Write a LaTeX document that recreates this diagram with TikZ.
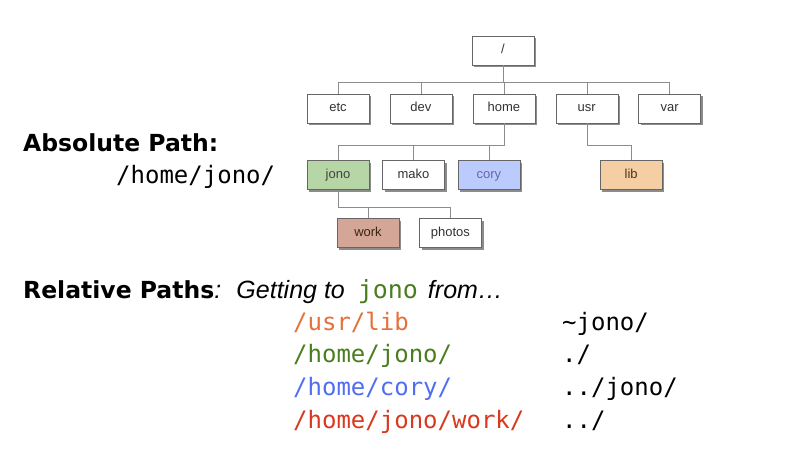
\documentclass[tikz,border=0pt]{standalone}
\usepackage{fontspec}
\newfontfamily\treefont{Liberation Sans}
\newfontfamily\headfont{DejaVu Sans}
\newfontfamily\pathfont{DejaVu Sans Mono}
\usepackage{tikz}
\usetikzlibrary{shadows}
\usetikzlibrary{positioning}
\definecolor{jono-fill}{HTML}{B7D6A6}
\definecolor{cory-fill}{HTML}{BBCBFD}
\definecolor{lib-fill}{HTML}{F5CEA3}
\definecolor{work-fill}{HTML}{D4A698}
\definecolor{usr-orange}{HTML}{E4703A}
\definecolor{jono-green}{HTML}{4A7D1E}
\definecolor{cory-blue}{HTML}{4F6EF0}
\definecolor{work-red}{HTML}{D9381E}

\begin{document}
\begin{tikzpicture}[x=1pt, y=-1pt]

    \tikzstyle{dir-s}     = [draw=black!60, fill=white, rectangle, minimum width=62pt, minimum height=29pt,
                             inner sep=0pt, text height=9.5pt, text depth=2.8pt, text=black!80,
                             font=\treefont\fontsize{13}{13}\selectfont,
                             drop shadow={shadow xshift=2.2pt, shadow yshift=-2.2pt, fill=black!45, opacity=1}];
    \tikzstyle{branch}    = [draw=black!45, thin];
    \tikzstyle{title}     = [anchor=base west, inner sep=0pt, font=\headfont\fontsize{23.5}{23.5}\selectfont\bfseries];
    \tikzstyle{unix-path} = [anchor=base west, inner sep=0pt, font=\pathfont\fontsize{24}{24}\selectfont];
    \newcommand{\slant}{\treefont\mdseries\itshape\fontsize{25}{25}\selectfont}

    \useasboundingbox (0,0) rectangle (793,474);

    %
    % Directory tree
    %
    \node[dir-s] (dir-root) at (503,50.5)           {/};

    \node[dir-s] (dir-etc)  at (338,108.5)          {etc};
    \node[dir-s] (dir-dev)  [right=20.5pt of dir-etc]  {dev};
    \node[dir-s] (dir-home) [right=20.5pt of dir-dev]  {home};
    \node[dir-s] (dir-usr)  [right=20.5pt of dir-home] {usr};
    \node[dir-s] (dir-var)  [right=20.5pt of dir-usr]  {var};

    \node[dir-s, fill=jono-fill, text=black!75] (dir-jono) at (338,175)  {jono};
    \node[dir-s] (dir-mako) [right=13pt of dir-jono] {mako};
    \node[dir-s, fill=cory-fill, text=black!55!blue!60] (dir-cory) [right=13pt of dir-mako] {cory};
    \node[dir-s, fill=lib-fill, text=black!60!brown] (dir-lib) [right=80pt of dir-cory] {lib};

    \node[dir-s, fill=work-fill, text=black!70!brown] (dir-work) at (368,233) {work};
    \node[dir-s] (dir-photos) [right=20pt of dir-work] {photos};

    % Branch levels
    \coordinate (lvl-1) at (0,82);
    \coordinate (lvl-2) at (0,145);
    \coordinate (lvl-3) at (0,207);

    \foreach \child in {etc,dev,home,usr,var}
        \draw[branch] (dir-root.south) |- (lvl-1 -| dir-\child) -- (dir-\child.north);
    \foreach \child in {jono,mako,cory}
        \draw[branch] (dir-home.south) |- (lvl-2 -| dir-\child) -- (dir-\child.north);
    \draw[branch] (dir-usr.south) |- (lvl-2 -| dir-lib) -- (dir-lib.north);
    \foreach \child in {work,photos}
        \draw[branch] (dir-jono.south) |- (lvl-3 -| dir-\child) -- (dir-\child.north);

    %
    % Absolute path
    %
    \node[title]     (abs-title) at (23,151)  {Absolute Path:};
    \node[unix-path] (abs-path)  at (116,183) {/home/jono/};

    %
    % Relative paths
    %
    \node[title] (rel-title) at (23,298)
        {Relative Paths{\slant:\hspace{6pt} Getting to\hspace{6pt} }{\pathfont\mdseries\fontsize{25}{25}\selectfont\color{jono-green}jono}{\slant\hspace{3pt} from\ldots}};

    \node[unix-path, text=usr-orange] (from-usr)  at (293,330)   {/usr/lib};
    \node[unix-path, text=jono-green] (from-jono) at (293,362.7) {/home/jono/};
    \node[unix-path, text=cory-blue]  (from-cory) at (293,395.3) {/home/cory/};
    \node[unix-path, text=work-red]   (from-work) at (293,428)   {/home/jono/work/};

    \node[unix-path] (to-usr)  at (562,330)   {\textasciitilde jono/};
    \node[unix-path] (to-jono) at (562,362.7) {./};
    \node[unix-path] (to-cory) at (562,395.3) {../jono/};
    \node[unix-path] (to-work) at (562,428)   {../};
\end{tikzpicture}
\end{document}
